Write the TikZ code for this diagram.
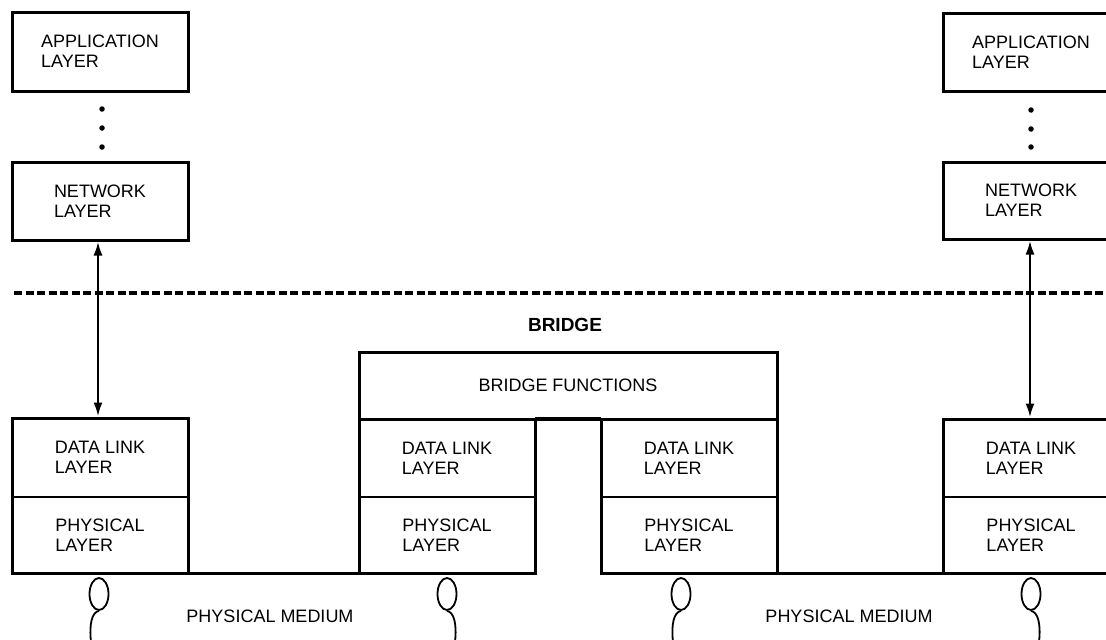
\documentclass[tikz,border=0pt]{standalone}
\usepackage{fontspec}
\setmainfont{Liberation Sans}
\usetikzlibrary{arrows.meta,shapes.geometric}
\begin{document}
\begin{tikzpicture}[x=1pt,y=-1pt,
  lyr/.style={font=\fontsize{18}{20}\selectfont, align=left},
  box/.style={lyr, draw, line width=3pt, minimum width=176pt, inner sep=0pt, outer sep=0pt, anchor=north west},
  cell/.style={lyr, draw, line width=1.8pt, minimum width=176pt, inner sep=0pt, outer sep=0pt, anchor=north west},
  frame/.style={line width=3pt},
  medium/.style={line width=3pt},
  arr/.style={{Latex[length=14pt,width=9pt]}-{Latex[length=14pt,width=9pt]}, line width=2.4pt, shorten <=1.5pt, shorten >=1.5pt},
  dot/.style={circle, fill, inner sep=0pt, minimum size=5.5pt},
  tap/.style={ellipse, draw, line width=1.8pt, minimum width=19pt, minimum height=32pt, inner sep=0pt},
  tail/.style={line width=1.8pt},
  sepline/.style={line width=3.5pt, dash pattern=on 8pt off 3.5pt},
  lbl/.style={font=\fontsize{18}{20}\selectfont},
  ttl/.style={font=\fontsize{19}{20}\selectfont\bfseries}
]
\useasboundingbox (0,0) rectangle (1106,640);
\clip (0,0) rectangle (1106,640);

% left end system
\node[box, minimum height=79pt] (lapp) at (12,12) {APPLICATION\\LAYER};
\node[dot] (ld1) at (102,109) {};
\node[dot] (ld2) at (102,128) {};
\node[dot] (ld3) at (102,147) {};
\node[box, minimum height=78pt] (lnet) at (12,162) {NETWORK\\LAYER};
\node[cell, minimum height=79pt] (ldl) at (12,418) {DATA LINK\\LAYER};
\node[cell, minimum height=76pt] (lphy) at (12,497) {PHYSICAL\\LAYER};
\draw[frame] (ldl.north west) rectangle (lphy.south east);

% right end system
\node[box, minimum height=78pt] (rapp) at (943,13) {APPLICATION\\LAYER};
\node[dot] (rd1) at (1031,110) {};
\node[dot] (rd2) at (1031,129) {};
\node[dot] (rd3) at (1031,147) {};
\node[box, minimum height=77pt] (rnet) at (943,162) {NETWORK\\LAYER};
\node[cell, minimum height=78pt] (rdl) at (943,419) {DATA LINK\\LAYER};
\node[cell, minimum height=76pt] (rphy) at (943,497) {PHYSICAL\\LAYER};
\draw[frame] (rdl.north west) rectangle (rphy.south east);

% separator
\coordinate (s0) at (14,293);
\coordinate (s1) at (1106,293);
\draw[sepline] (s0) -- (s1);

% bridge
\node[ttl] (btitle) at (565,325) {BRIDGE};
\node[box, minimum width=418pt, minimum height=67pt] (bf) at (359,352) {BRIDGE FUNCTIONS};
\node[cell, minimum height=78pt] (bldl) at (359,419) {DATA LINK\\LAYER};
\node[cell, minimum height=76pt] (blphy) at (359,497) {PHYSICAL\\LAYER};
\draw[frame] (bldl.north west) rectangle (blphy.south east);
\node[cell, minimum height=78pt] (brdl) at (601,419) {DATA LINK\\LAYER};
\node[cell, minimum height=76pt] (brphy) at (601,497) {PHYSICAL\\LAYER};
\draw[frame] (brdl.north west) rectangle (brphy.south east);
\draw[line width=4.5pt] (bldl.north east) -- (brdl.north west);

% arrows
\draw[arr] ([xshift=86pt]lnet.south west) -- ([xshift=86pt]ldl.north west);
\draw[arr] ([xshift=87pt]rnet.south west) -- ([xshift=87pt]rdl.north west);

% physical media
\draw[medium] (lphy.south west) -- (blphy.south east);
\draw[medium] (brphy.south west) -- (rphy.south east);
\node[lbl] (pm1) at (270,616) {PHYSICAL MEDIUM};
\node[lbl] (pm2) at (849,616) {PHYSICAL MEDIUM};

% taps
\node[tap] (t1) at (99,594) {};
\node[tap] (t2) at (447,594) {};
\node[tap] (t3) at (681,594) {};
\node[tap] (t4) at (1031,594) {};
\coordinate (e1) at (91,642);
\coordinate (e2) at (455,642);
\coordinate (e3) at (673,642);
\coordinate (e4) at (1039,642);
\draw[tail] (t1.south) .. controls (92,612) and (89,624) .. (e1);
\draw[tail] (t2.south) .. controls (454,612) and (457,624) .. (e2);
\draw[tail] (t3.south) .. controls (674,612) and (671,624) .. (e3);
\draw[tail] (t4.south) .. controls (1038,612) and (1041,624) .. (e4);
\end{tikzpicture}
\end{document}
